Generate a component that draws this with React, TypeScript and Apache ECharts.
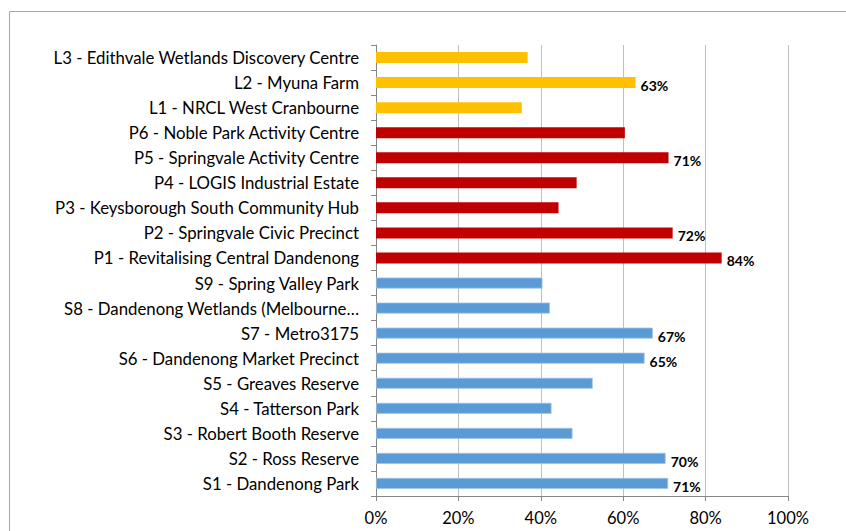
import React, { useEffect, useRef } from "react";
import * as echarts from "echarts";

// Bottom-to-top order (first category drawn at the bottom)
const categories = [
  "S1 - Dandenong Park",
  "S2 - Ross Reserve",
  "S3 - Robert Booth Reserve",
  "S4 - Tatterson Park",
  "S5 - Greaves Reserve",
  "S6 - Dandenong Market Precinct",
  "S7 - Metro3175",
  "S8 - Dandenong Wetlands (Melbourne…",
  "S9 - Spring Valley Park",
  "P1 - Revitalising Central Dandenong",
  "P2 - Springvale Civic Precinct",
  "P3 - Keysborough South Community Hub",
  "P4 - LOGIS Industrial Estate",
  "P5 - Springvale Activity Centre",
  "P6 - Noble Park Activity Centre",
  "L1 - NRCL West Cranbourne",
  "L2 - Myuna Farm",
  "L3 - Edithvale Wetlands Discovery Centre",
];

const values = [
  0.709, 0.703, 0.477, 0.426, 0.526, 0.652, 0.672, 0.422, 0.404,
  0.839, 0.72, 0.443, 0.487, 0.71, 0.604,
  0.354, 0.63, 0.368,
];

const groups = [
  "S", "S", "S", "S", "S", "S", "S", "S", "S",
  "P", "P", "P", "P", "P", "P",
  "L", "L", "L",
];

const showLabel = [
  true, true, false, false, false, true, true, false, false,
  true, true, false, false, true, false,
  false, true, false,
];

const groupColors: Record<string, string> = {
  S: "#5B9BD5",
  P: "#C00000",
  L: "#FFC000",
};

const xTicks = [0, 0.2, 0.4, 0.6, 0.8, 1];

const FONT = "Lato, 'Liberation Sans', sans-serif";

export default function App() {
  const ref = useRef<HTMLDivElement>(null);

  useEffect(() => {
    if (!ref.current) return;
    const chart = echarts.init(ref.current, null, { renderer: "svg" });
    const data = values.map((v, i) => ({
      value: v,
      itemStyle: {
        color: groupColors[groups[i]],
        borderColor: groups[i] === "S" ? "#9DC3E6" : groupColors[groups[i]],
        borderWidth: groups[i] === "S" ? 0.8 : 0,
      },
      label: { show: showLabel[i] },
    }));
    chart.setOption({
      animation: false,
      backgroundColor: "#ffffff",
      textStyle: { fontFamily: FONT },
      graphic: [
        {
          type: "rect",
          shape: { x: 9.5, y: 11.5, width: 900, height: 600 },
          style: { fill: "none", stroke: "#a6a6a6", lineWidth: 1 },
          silent: true,
        },
      ],
      grid: { left: 376, right: 58, top: 45, bottom: 35, containLabel: false },
      xAxis: {
        type: "value",
        min: xTicks[0],
        max: xTicks[xTicks.length - 1],
        interval: 0.2,
        axisLine: { show: true, lineStyle: { color: "#868686", width: 1 } },
        axisTick: { show: true, length: 5, lineStyle: { color: "#868686" } },
        splitLine: { show: true, lineStyle: { color: "#bfbfbf", width: 1 } },
        axisLabel: {
          color: "#000000",
          fontSize: 16.5,
          fontFamily: FONT,
          margin: 13,
          formatter: (v: number) => `${Math.round(v * 100)}%`,
        },
      },
      yAxis: {
        type: "category",
        data: categories,
        axisLine: { show: true, lineStyle: { color: "#868686", width: 1 } },
        axisTick: { show: true, length: 5, lineStyle: { color: "#868686" } },
        axisLabel: {
          color: "#000000",
          fontSize: 16.8,
          fontFamily: FONT,
          margin: 17,
        },
      },
      series: [
        {
          type: "bar",
          data,
          barWidth: 11,
          label: {
            position: "right",
            distance: 5,
            offset: [0, 3],
            color: "#000000",
            fontWeight: "bold",
            fontSize: 14,
            fontFamily: FONT,
            formatter: (p: any) => `${Math.round(p.value * 100)}%`,
          },
        },
      ],
    });
    return () => chart.dispose();
  }, []);

  return (
    <div
      ref={ref}
      style={{ position: "absolute", left: 0, top: 0, width: 846, height: 531 }}
    />
  );
}
